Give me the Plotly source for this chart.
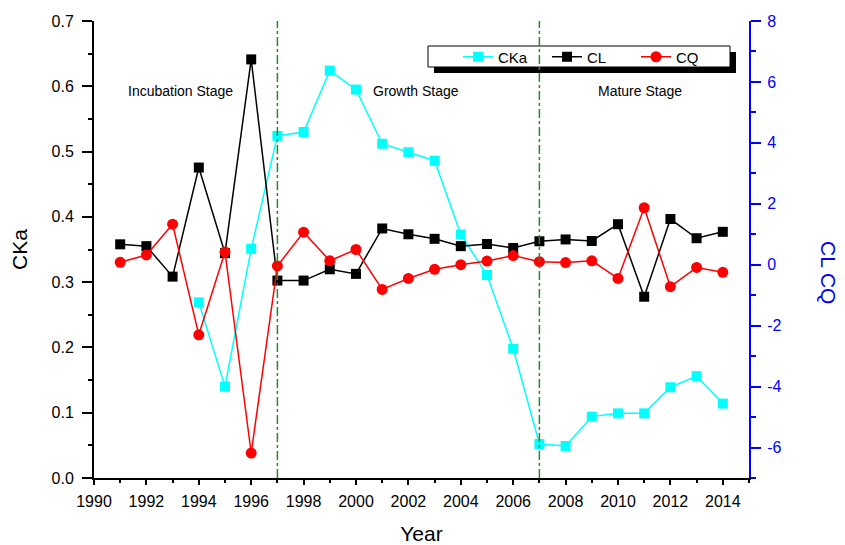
import plotly.graph_objects as go

years = list(range(1991, 2015))
cka_years = list(range(1994, 2015))
cka = [0.269, 0.140, 0.351, 0.524, 0.530, 0.624, 0.595, 0.512, 0.499, 0.486, 0.373,
       0.311, 0.198, 0.052, 0.049, 0.094, 0.099, 0.099, 0.139, 0.156, 0.114]
cl = [0.67, 0.61, -0.39, 3.19, 0.38, 6.74, -0.52, -0.52, -0.15, -0.30, 1.19, 1.00,
      0.85, 0.61, 0.68, 0.55, 0.77, 0.83, 0.78, 1.33, -1.05, 1.50, 0.87, 1.08]
cq = [0.08, 0.32, 1.33, -2.30, 0.42, -6.18, -0.04, 1.07, 0.13, 0.50, -0.81, -0.45,
      -0.15, 0.00, 0.12, 0.30, 0.10, 0.07, 0.13, -0.45, 1.87, -0.72, -0.09, -0.25]
right_tickvals = [-6, -4, -2, 0, 2, 4, 6, 8]
right_ticktext = ["-6", "-4", "-2", "0", "2", "4", "6", "8"]
stage_years = [1997, 2007]
stage_labels = ["Incubation Stage", "Growth Stage", "Mature Stage"]
stage_label_x = [1993.32, 2002.29, 2010.84]

FONT = "Arial, Liberation Sans, sans-serif"
W, H = 845, 545
L, R, T, B = 94, 96, 21, 67
pw, ph = W - L - R, H - T - B

def px_x(p):
    return (p - L) / pw

def px_y(p):
    return (H - B - p) / ph

fig = go.Figure()
fig.add_trace(go.Scatter(x=cka_years, y=cka, name="CKa", mode="lines+markers",
                         line=dict(color="#00FFFF", width=1.5),
                         marker=dict(symbol="square", size=10, color="#00FFFF"),
                         yaxis="y"))
fig.add_trace(go.Scatter(x=years, y=cl, name="CL", mode="lines+markers",
                         line=dict(color="black", width=1.5),
                         marker=dict(symbol="square", size=10, color="black"),
                         yaxis="y2"))
fig.add_trace(go.Scatter(x=years, y=cq, name="CQ", mode="lines+markers",
                         line=dict(color="#FF0000", width=1.5),
                         marker=dict(symbol="circle", size=11, color="#FF0000"),
                         yaxis="y2"))

shapes = [
    dict(type="rect", xref="paper", yref="paper", x0=px_x(434), x1=px_x(736),
         y0=px_y(73), y1=px_y(52), fillcolor="black", line=dict(width=0), layer="below"),
    dict(type="rect", xref="paper", yref="paper", x0=px_x(428), x1=px_x(730),
         y0=px_y(67), y1=px_y(46), fillcolor="white", line=dict(color="black", width=1),
         layer="below"),
]
for sy in stage_years:
    shapes.append(dict(type="line", xref="x", yref="paper", x0=sy, x1=sy, y0=0, y1=1,
                       line=dict(color="#228B22", width=1.5, dash="dashdot"), layer="above"))

annotations = [dict(x=x, y=0.593, xref="x", yref="y", text=t, showarrow=False,
                    font=dict(family=FONT, size=14, color="black"))
               for x, t in zip(stage_label_x, stage_labels)]
annotations.append(dict(x=px_x(829), y=px_y(272), xref="paper", yref="paper", text="CL CQ",
                        textangle=90, showarrow=False, xanchor="center", yanchor="middle",
                        font=dict(family=FONT, size=21, color="blue")))

fig.update_layout(
    width=W, height=H,
    margin=dict(l=L, r=R, t=T, b=B, autoexpand=False),
    paper_bgcolor="white", plot_bgcolor="white",
    font=dict(family=FONT, size=16, color="black"),
    showlegend=True,
    legend=dict(orientation="h", x=px_x(458), y=px_y(57), xanchor="left", yanchor="middle",
                bgcolor="rgba(0,0,0,0)", borderwidth=0, font=dict(size=15),
                entrywidth=44, entrywidthmode="pixels", tracegroupgap=0),
    xaxis=dict(range=[1990, 2015], dtick=2, tick0=1990, ticks="outside", ticklen=5,
               tickwidth=1.5, tickcolor="black", showline=True, linecolor="black", linewidth=2,
               showgrid=False, zeroline=False, ticklabelstandoff=3,
               minor=dict(dtick=1, ticks="outside", ticklen=3, tickcolor="black", tickwidth=1.5),
               title=dict(text="Year", font=dict(size=21), standoff=20)),
    xaxis2=dict(range=[1990, 2015], overlaying="x", side="top", anchor="y", dtick=1,
                tick0=1990, ticks="inside", ticklen=5, tickwidth=1.5, tickcolor="black",
                showline=True, linecolor="black", linewidth=2, showticklabels=False,
                showgrid=False, zeroline=False),
    yaxis=dict(range=[0, 0.7], dtick=0.1, tick0=0, tickformat=".1f", ticks="outside",
               ticklen=10, tickwidth=1.5, tickcolor="black", showline=True, linecolor="black",
               linewidth=2, showgrid=False, zeroline=False, ticklabelstandoff=5,
               minor=dict(dtick=0.05, ticks="outside", ticklen=4, tickcolor="black", tickwidth=1.5),
               title=dict(text="CKa", font=dict(size=21), standoff=18)),
    yaxis2=dict(range=[-7, 8], tickmode="array", tickvals=right_tickvals,
                ticktext=right_ticktext, overlaying="y", side="right", anchor="x",
                ticks="outside", ticklen=10, tickwidth=1.5, tickcolor="blue", showline=True,
                linecolor="blue", linewidth=2, showgrid=False, zeroline=False,
                tickfont=dict(color="blue", size=16), ticklabelstandoff=3,
                minor=dict(dtick=1, tick0=0, ticks="outside", ticklen=5, tickcolor="blue",
                           tickwidth=1.5)),
    shapes=shapes,
    annotations=annotations,
)

fig.write_html("out.html", post_script="document.body.style.margin='0px';",
               config={"displayModeBar": False})
